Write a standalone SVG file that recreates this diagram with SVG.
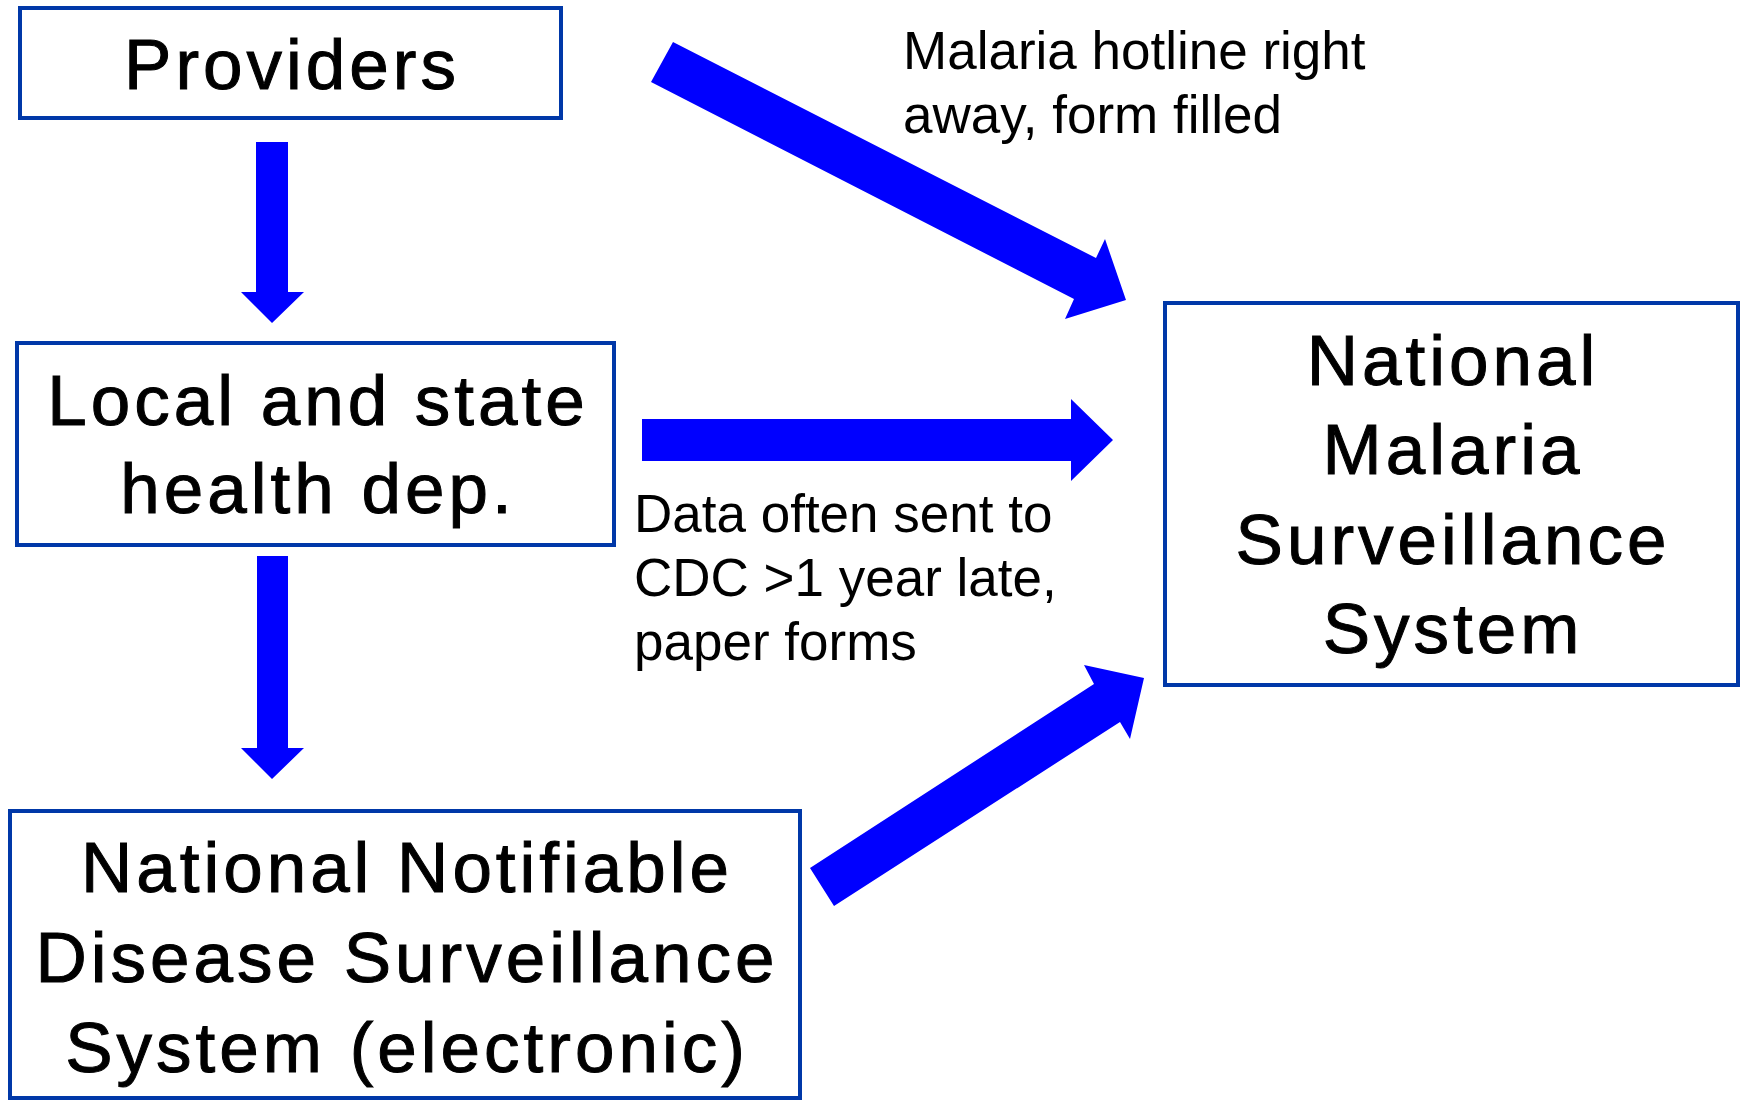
<svg xmlns="http://www.w3.org/2000/svg" width="1744" height="1100" viewBox="0 0 1744 1100">
<style>
.box{fill:#ffffff;stroke:#0038A8;stroke-width:4}
.big{font-family:"Liberation Sans",Arial,sans-serif;font-size:71px;letter-spacing:4px;fill:#000;stroke:#000;stroke-width:1;text-anchor:middle}
.small{font-family:"Liberation Sans",Arial,sans-serif;font-size:53px;fill:#000}
.arrow{fill:#0000FF;stroke:none}
</style>
<rect width="1744" height="1100" fill="#ffffff"/>
<g id="providers">
<rect class="box" x="20" y="8" width="541" height="110"/>
<text class="big" x="292" y="89">Providers</text>
</g>
<g id="local">
<rect class="box" x="17" y="343" width="597" height="202"/>
<text class="big" x="318" y="425">Local and state</text>
<text class="big" x="318" y="513">health dep.</text>
</g>
<g id="nmss">
<rect class="box" x="1165" y="303" width="573" height="382"/>
<text class="big" x="1453" y="385">National</text>
<text class="big" x="1453" y="474">Malaria</text>
<text class="big" x="1453" y="564">Surveillance</text>
<text class="big" x="1453" y="653">System</text>
</g>
<g id="nndss">
<rect class="box" x="10" y="811" width="790" height="287"/>
<text class="big" x="407" y="892">National Notifiable</text>
<text class="big" x="407" y="982">Disease Surveillance</text>
<text class="big" x="407" y="1072">System (electronic)</text>
</g>
<g id="connectors">
<polygon class="arrow" points="256,142 288,142 288,292 304,292 272,323 241,292 256,292"/>
<polygon class="arrow" points="257,556 288,556 288,748 304,748 272,779 241,748 257,748"/>
<polygon class="arrow" points="642,419 1071,419 1071,399 1113,440 1071,481 1071,461 642,461"/>
<polygon class="arrow" points="673,42 1096,258 1105,239 1126,300 1065,319 1074,299 651,82"/>
<polygon class="arrow" points="810,868 1094,684 1084,665 1144,678 1130,739 1120,722 834,906"/>
</g>
<g id="labels">
<text class="small" x="903" y="69">Malaria hotline right</text>
<text class="small" x="903" y="133">away, form filled</text>
<text class="small" x="634" y="532">Data often sent to</text>
<text class="small" x="634" y="596">CDC &gt;1 year late,</text>
<text class="small" x="634" y="660">paper forms</text>
</g>
</svg>
